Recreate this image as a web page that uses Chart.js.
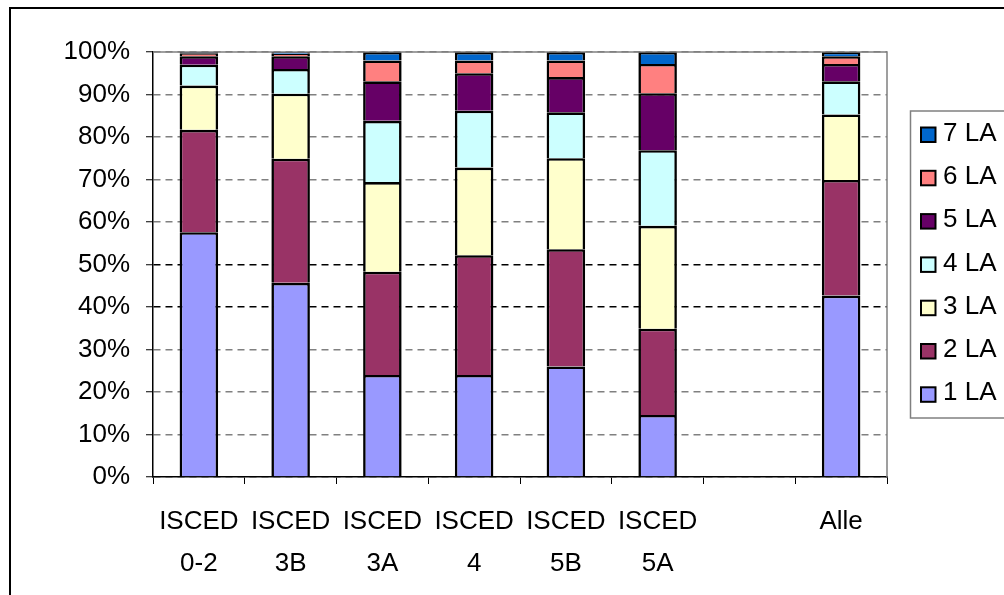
<!DOCTYPE html>
<html>
<head>
<meta charset="utf-8">
<script src="https://cdn.jsdelivr.net/npm/chart.js@4/dist/chart.umd.min.js"></script>
<style>
  html, body { margin: 0; padding: 0; background: #fff; overflow: hidden; }
  #wrap { position: relative; width: 1004px; height: 595px; }
  #frame { position: absolute; left: 9px; top: 7px; width: 1100px; height: 700px;
           border-left: 2px solid #000; border-top: 2px solid #000; pointer-events: none; }
  canvas { position: absolute; left: 0; top: 0; }
</style>
</head>
<body>
<div id="wrap">
  <canvas id="c" width="1004" height="595"></canvas>
  <div id="frame"></div>
</div>
<script>
// Categories (the empty slot keeps the gap before "Alle")
const categories = [
  ['ISCED', '0-2'], ['ISCED', '3B'], ['ISCED', '3A'], ['ISCED', '4'],
  ['ISCED', '5B'], ['ISCED', '5A'], '', 'Alle'
];

// Share of each group (percent)
const la1 = [57.6, 45.7, 24.0, 24.0, 26.0, 14.6, null, 42.7];
const la2 = [24.1, 29.2, 24.3, 28.2, 27.6, 20.3, null, 27.2];
const la3 = [10.4, 15.3, 21.1, 20.6, 21.4, 24.2, null, 15.4];
const la4 = [ 4.9,  5.8, 14.4, 13.4, 10.8, 17.8, null,  7.8];
const la5 = [ 2.0,  3.0,  9.3,  8.8,  8.3, 13.4, null,  4.1];
const la6 = [ 0.7,  0.6,  4.9,  3.0,  3.9,  6.9, null,  1.8];
const la7 = [ 0.3,  0.4,  2.0,  2.0,  2.0,  2.8, null,  1.0];

const seriesNames = ['1 LA', '2 LA', '3 LA', '4 LA', '5 LA', '6 LA', '7 LA'];
const seriesValues = [la1, la2, la3, la4, la5, la6, la7];
const seriesColors = ['#9999FF', '#993366', '#FFFFCC', '#CCFFFF', '#660066', '#FF8080', '#0066CC'];

const yTicks = [0, 10, 20, 30, 40, 50, 60, 70, 80, 90, 100];

const FONT = 'Liberation Sans, Arial, sans-serif';

// Grey frame on the top and right of the plot area
const plotFrame = {
  id: 'plotFrame',
  afterDatasetsDraw(chart) {
    const { ctx, chartArea: a } = chart;
    ctx.save();
    ctx.strokeStyle = '#808080';
    ctx.lineWidth = 1.5;
    ctx.beginPath();
    ctx.moveTo(a.left, a.top);
    ctx.lineTo(a.right, a.top);
    ctx.lineTo(a.right, a.bottom);
    ctx.stroke();
    ctx.restore();
  }
};

// Boxed legend on the right, top entry = last series
const boxedLegend = {
  id: 'boxedLegend',
  afterDraw(chart) {
    const { ctx } = chart;
    const ds = chart.data.datasets;
    const left = 910.5, top = 111, bottom = 418;
    ctx.save();
    ctx.fillStyle = '#fff';
    ctx.fillRect(left, top, 200, bottom - top);
    ctx.strokeStyle = '#808080';
    ctx.lineWidth = 1.5;
    ctx.strokeRect(left, top, 200, bottom - top);
    ctx.font = '26px ' + FONT;
    ctx.textBaseline = 'middle';
    ctx.textAlign = 'left';
    const step = 43.3;
    for (let k = 0; k < ds.length; k++) {
      const d = ds[ds.length - 1 - k];
      const cy = 135 + k * step;
      ctx.fillStyle = d.backgroundColor;
      ctx.fillRect(921, cy - 7.5, 14.5, 14.5);
      ctx.strokeStyle = '#000';
      ctx.lineWidth = 2;
      ctx.strokeRect(921, cy - 7.5, 14.5, 14.5);
      ctx.fillStyle = '#000';
      ctx.fillText(d.label, 943, cy - 1.5);
    }
    ctx.restore();
  }
};

new Chart(document.getElementById('c'), {
  type: 'bar',
  data: {
    labels: categories,
    datasets: seriesNames.map((name, i) => ({
      label: name,
      data: seriesValues[i],
      backgroundColor: seriesColors[i],
      borderColor: '#000',
      borderWidth: 2.6,
      borderSkipped: 'bottom',
      inflateAmount: 0,
      categoryPercentage: 1.0,
      barPercentage: 0.42
    }))
  },
  options: {
    responsive: false,
    animation: false,
    devicePixelRatio: 1,
    layout: { padding: { left: 0, top: 52, right: 117, bottom: 0 } },
    plugins: {
      legend: { display: false },
      tooltip: { enabled: false }
    },
    scales: {
      x: {
        stacked: true,
        afterFit(scale) { scale.height = 118; },
        grid: {
          offset: true,
          drawOnChartArea: false,
          drawTicks: true,
          tickLength: 7,
          tickColor: '#000',
          tickWidth: 1
        },
        border: { display: true, color: '#000', width: 1.5 },
        ticks: {
          color: '#000',
          padding: 17,
          maxRotation: 0,
          autoSkip: false,
          font: { family: FONT, size: 26, lineHeight: 1.6 }
        }
      },
      y: {
        stacked: true,
        min: 0,
        max: 100,
        afterFit(scale) { scale.width = 153; },
        afterBuildTicks(scale) { scale.ticks = yTicks.map(v => ({ value: v })); },
        grid: {
          drawTicks: true,
          tickLength: 7,
          tickColor: '#000',
          tickWidth: 1,
          lineWidth: 1.5,
          color: (ctx) => (ctx.tick && (ctx.tick.value === 40 || ctx.tick.value === 50)) ? '#000' : '#808080'
        },
        border: { display: true, color: '#000', width: 1.5, dash: [7, 5] },
        ticks: {
          color: '#000',
          padding: 16,
          font: { family: FONT, size: 26 },
          callback: (v) => v + '%'
        }
      }
    }
  },
  plugins: [plotFrame, boxedLegend]
});
</script>
</body>
</html>
